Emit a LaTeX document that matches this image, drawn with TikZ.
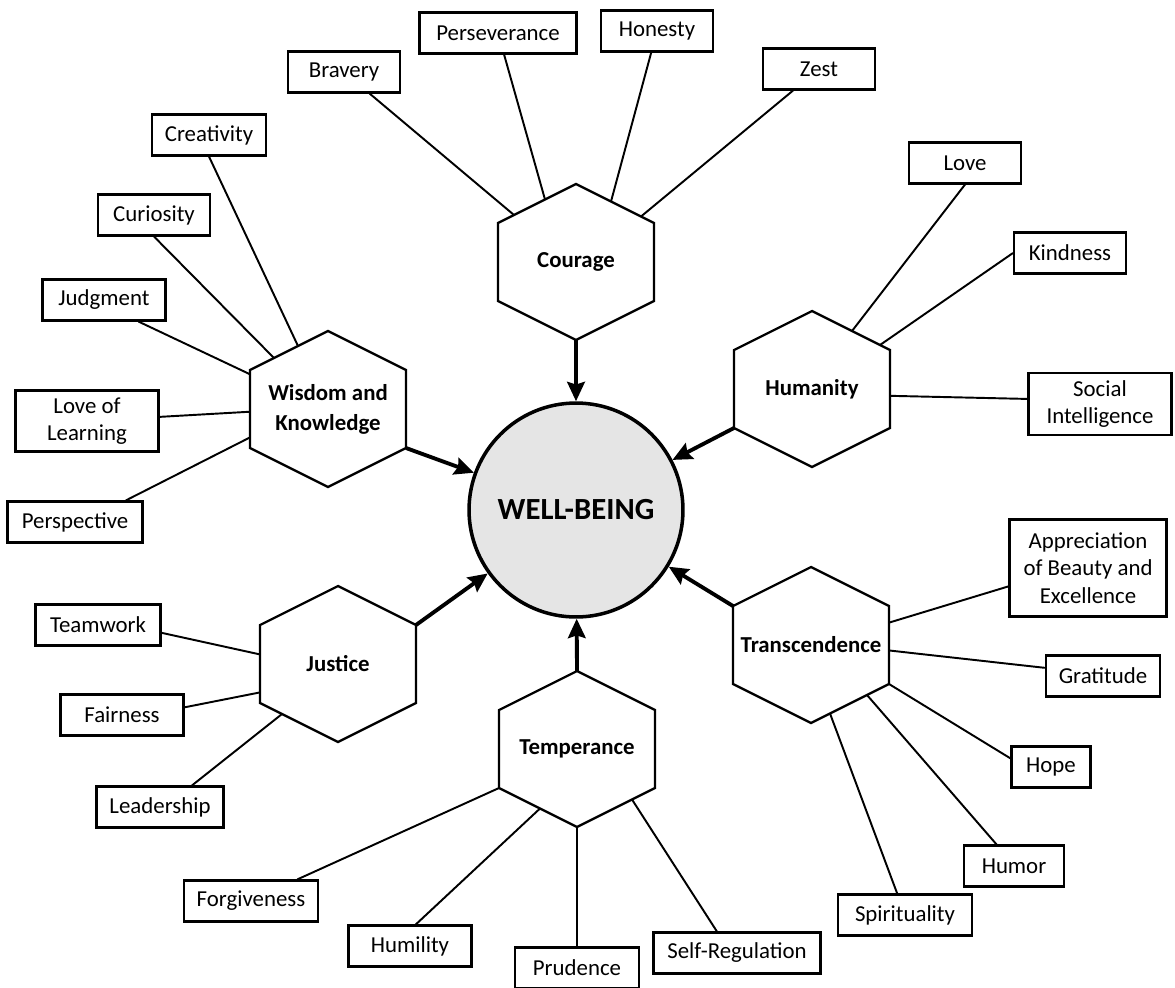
\documentclass[tikz,border=0pt]{standalone}
\usepackage{fontspec}
\setmainfont{Carlito}
\usetikzlibrary{arrows.meta}

\begin{document}
\begin{tikzpicture}[x=0.02cm,y=-0.02cm,line width=1.1pt,
 >={Stealth[length=11pt,width=10pt,inset=1.5pt]},font=\fontsize{13}{15.6}\selectfont,
 hex/.style={rectangle,minimum width=3.12cm,minimum height=1.56cm,inner sep=0pt,
  outer sep=0pt,align=center,font=\fontsize{13}{17}\selectfont\bfseries},
 vir/.style={draw,rectangle,line width=1.2pt,minimum width=#1,minimum height=0.82cm,
  inner xsep=0.26cm,inner ysep=0.14cm,align=center},
 vir/.default=2.24cm,
 arr/.style={->,line width=2.2pt}]
\useasboundingbox (0,0) rectangle (1175,987);
% centre
\node[draw,circle,line width=2pt,fill=gray!20,minimum size=4.28cm,
 font=\fontsize{17.5}{20}\selectfont\bfseries] (wb) at (576,510) {WELL-BEING};
% virtues
\node[hex] (cou) at (576,262) {Courage};
\node[hex] (wis) at (328,409) {Wisdom and\\Knowledge};
\node[hex] (hum) at (812,389) {Humanity};
\node[hex] (tra) at (811,645) {Transcendence};
\node[hex] (jus) at (338,664) {Justice};
\node[hex] (tem) at (577,749) {Temperance};
\foreach \hx in {cou,wis,hum,tra,jus,tem}
 \draw[line width=1.3pt] (\hx.north west)--([yshift=0.78cm]\hx.north)--(\hx.north east)
  --(\hx.south east)--([yshift=-0.78cm]\hx.south)--(\hx.south west)--cycle;
\draw[arr] ([yshift=-0.78cm]cou.south)--(wb); \draw[arr] (wis.south east)--(wb);
\draw[arr] (hum.south west)--(wb); \draw[arr] (tra.north west)--(wb);
\draw[arr] (jus.north east)--(wb); \draw[arr] ([yshift=0.78cm]tem.north)--(wb);
% courage
\node[vir] (c1) at (344,72) {Bravery};
\node[vir=3.14cm] (c2) at (498,33) {Perseverance};
\node[vir] (c3) at (657,31) {Honesty};
\node[vir] (c4) at (819,69) {Zest};
\draw (c1)--([shift={(-62,-47)}]cou.center); \draw (c2)--([shift={(-31,-62.5)}]cou.center);
\draw (c3)--([shift={(35,-60.5)}]cou.center); \draw (c4)--([shift={(65,-45.5)}]cou.center);
% wisdom and knowledge
\node[vir] (w1) at (209,135) {Creativity};
\node[vir] (w2) at (154,215) {Curiosity};
\node[vir=2.46cm] (w3) at (104,300) {Judgment};
\node[vir=2.86cm] (w4) at (87,421) {Love of\\Learning};
\node[vir=2.7cm] (w5) at (75,522) {Perspective};
\draw (w1.south)--([shift={(-30,-63)}]wis.center); \draw (w2.south)--([shift={(-54,-51)}]wis.center);
\draw (w3.-32)--(wis.156); \draw (w4)--(wis.182);
\draw (w5.23)--(wis.200);
% humanity
\node[vir] (h1) at (965,163) {Love};
\node[vir] (h2) at (1070,253) {Kindness};
\node[vir=2.86cm] (h3) at (1100,404) {Social\\Intelligence};
\draw (h1.south)--([shift={(40,-58)}]hum.center); \draw (h2.west)--([shift={(68,-44)}]hum.center);
\draw (h3.176)--(hum.-5);
% transcendence
\node[vir=3.14cm,minimum height=1.94cm] (s1) at (1088,568) {Appreciation\\of Beauty and\\Excellence};
\node[vir] (s2) at (1103,676) {Gratitude};
\node[vir=1.58cm] (s3) at (1051,767) {Hope};
\node[vir=2cm] (s4) at (1014,866) {Humor};
\node[vir=2.68cm] (s5) at (905,915) {Spirituality};
\draw (s1.193)--(tra.16); \draw (s2.172)--(tra.-4);
\draw (s3.168)--(tra.south east); \draw (s4.129)--([shift={(56,50)}]tra.center);
\draw (s5.110)--([shift={(19,68.5)}]tra.center);
% justice
\node[vir=2.5cm] (j1) at (98,625) {Teamwork};
\node[vir=2.46cm] (j2) at (122,715) {Fairness};
\node[vir=2.46cm] (j3) at (160,807) {Leadership};
\draw (j1.-7)--(jus.173); \draw (j2.7)--(jus.200);
\draw (j3.34)--([shift={(-56,50)}]jus.center);
% temperance
\node[vir=2.68cm] (t1) at (251,901) {Forgiveness};
\node[vir=2.46cm] (t2) at (410,946) {Humility};
\node[vir=2.48cm] (t3) at (577,968) {Prudence};
\node[vir=3.34cm] (t4) at (737,953) {Self-Regulation};
\draw (t1.25)--(tem.south west); \draw (t2.75)--([shift={(-37,59.5)}]tem.center);
\draw (t3.north)--([yshift=-0.78cm]tem.south); \draw (t4.133)--([shift={(55,50.5)}]tem.center);
\end{tikzpicture}
\end{document}
